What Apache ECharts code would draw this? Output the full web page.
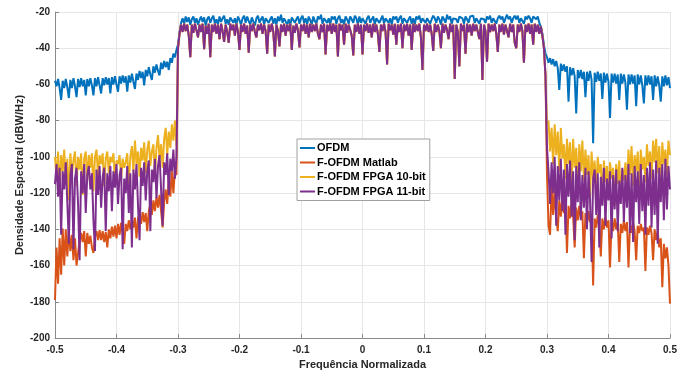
<!DOCTYPE html>
<html>
<head>
<meta charset="utf-8">
<script src="https://cdn.jsdelivr.net/npm/echarts@6/dist/echarts.min.js"></script>
<style>
  html, body { margin: 0; padding: 0; background: #fff; }
  #chart { width: 694px; height: 371px; }
</style>
</head>
<body>
<div id="chart"></div>
<script>
// frequency grid: -0.5 .. 0.5, 401 samples
const freq = [];
for (let i = 0; i < 401; i++) freq.push(Math.round((-0.5 + i * 0.0025) * 10000) / 10000);

const xTicks = ['-0.5', '-0.4', '-0.3', '-0.2', '-0.1', '0', '0.1', '0.2', '0.3', '0.4', '0.5'];
const yTicks = [-200, -180, -160, -140, -120, -100, -80, -60, -40, -20];

// OFDM (blue) - left sidelobes, passband, right sidelobes
const ofdmLeft = [
  -58, -61, -57, -62, -68.5, -58, -62, -57, -61.5, -67.5,
  -57.5, -62, -56.5, -61, -67, -57, -61.5, -56.5, -61, -57.5,
  -66, -57, -61, -56.5, -60.5, -66, -56.5, -61, -56, -60.5,
  -65, -56.5, -60.5, -56, -60, -56.5, -65, -56, -60, -55.5,
  -60, -64, -55.5, -59.5, -55, -59, -55.5, -64, -55, -59,
  -54, -58.5, -62.5, -54, -57.5, -52.5, -56.5, -53, -60.5, -52,
  -55.5, -50.5, -54.5, -57.5, -50, -53.5, -49, -52.5, -55, -48,
  -51.5, -47, -50.5, -47.5, -52, -45.5, -48, -43, -45, -41,
  -38
];
const ofdmPass = [
  -31, -26, -23.5, -26.5, -22.5, -25.5, -23, -27, -24, -22.5, -26, -23.5, -27, -24.5, -22.5, -25.5, -23, -27.5, -24, -22.5,
  -26, -23.5, -22, -26.5, -24, -27, -22.5, -25.5, -23.5, -22, -26.5, -24, -27, -23, -22.5, -26, -23.5, -27, -22.5, -24.5,
  -27, -23.5, -22, -26, -22.5, -25, -27, -23, -24, -27.5, -23.5, -22, -26, -24, -22.5, -27, -23.5, -22.5, -26, -24,
  -22.5, -26.5, -23.5, -27, -22.5, -25, -21.5, -26, -23.5, -22.5, -27, -24, -27.5, -23, -22.5, -26, -24, -22.5, -26.5, -23.5,
  -22, -26, -23.5, -27, -22.5, -24.5, -27, -22.5, -25, -26.5, -22.5, -24, -21.5, -26.5, -23.5, -22.5, -26, -23.5, -27, -22.5,
  -24, -22.5, -26.5, -23.5, -22, -26, -24, -27, -22.5, -24, -26.5, -22.5, -24, -26, -22, -23.5, -27, -22.5, -26, -23.5,
  -22.5, -26.5, -23.5, -22, -26, -24, -22.5, -27, -23.5, -22.5, -26, -24, -22, -26.5, -23.5, -22.5, -26, -23.5, -27, -22.5,
  -24, -22.5, -26, -23.5, -22, -26.5, -23.5, -22.5, -26, -24, -22.5, -26.5, -23.5, -27, -22.5, -24, -22, -26, -23.5, -22.5,
  -26, -23.5, -22.5, -26.5, -24, -22, -23.5, -26, -22.5, -24, -27, -22.5, -24, -26, -21.5, -24, -22.5, -26.5, -23.5, -22.5,
  -24, -26, -22.5, -22, -23.5, -26.5, -22.5, -24, -26, -22.5, -23.5, -22, -26, -23.5, -22.5, -26.5, -23.5, -22.5, -24, -26,
  -22.5, -24, -22, -26, -23.5, -22.5, -26.5, -23.5, -22, -24, -22.5, -26, -23.5, -21.5, -24, -22.5, -26, -23.5, -22, -24,
  -22, -26, -23.5, -22.5, -26.5, -22.5, -24, -22, -23.5, -26, -22.5, -22, -24, -22.5, -26, -28, -32, -38, -43
];
const ofdmRight = [
  -45, -48, -45.5, -49, -46, -50, -47, -51, -63, -48.5,
  -52.5, -49, -53, -50, -69.5, -50.5, -55, -51, -55.5, -76,
  -52, -56.5, -52, -57, -53, -67, -53, -58, -52.5, -57.5,
  -92.5, -53.5, -58.5, -53, -58, -54, -68, -53.5, -59, -54,
  -58.5, -78.5, -54, -59, -54, -59.5, -54.5, -68.5, -54, -59.5,
  -54.5, -59, -74, -54.5, -60, -54.5, -59.5, -55, -72, -54.5,
  -60, -55, -60.5, -70.5, -55, -60.5, -55, -60, -55.5, -68.5,
  -55, -61, -55.5, -60.5, -69.5, -55.5, -61, -55, -60.5, -56,
  -62
];

// F-OFDM passband (the three filtered curves overlap here)
const fofdmPass = [
  -32, -27, -31, -26.5, -30.5, -27, -33, -45, -27, -31.5, -26.5, -30, -34, -27, -31, -26.5, -40.5, -27.5, -32, -26.5,
  -45, -27, -31, -26.5, -32, -27, -35, -26.5, -30.5, -36.5, -27, -31, -37, -26.5, -30, -27, -33, -26.5, -31, -41,
  -27, -31, -26.5, -32, -27.5, -42.5, -27, -30.5, -26.5, -31, -34, -27, -30, -26.5, -32, -27, -30.5, -43, -27, -31,
  -26.5, -31, -44.5, -27, -30.5, -39, -27, -31, -26.5, -33, -27, -30.5, -26.5, -41, -27.5, -31.5, -26.5, -30, -39.5, -27,
  -30.5, -26.5, -32, -27, -34, -26.5, -31, -27, -30.5, -26.5, -32, -35, -27, -31, -26.5, -43.5, -27, -30.5, -26.5, -32,
  -26.5, -31, -27, -44.5, -26.5, -30, -27, -38, -26.5, -31.5, -27, -30, -33, -44, -27, -31, -26.5, -32, -27, -43.5,
  -27, -30.5, -26.5, -31.5, -27, -34, -26.5, -31, -27, -32, -42, -27, -30.5, -26.5, -31, -49, -26.5, -30, -27, -32.5,
  -26.5, -38, -27, -31, -26.5, -40, -27, -30.5, -26.5, -33, -27, -41, -26.5, -31, -27, -30.5, -26.5, -34, -52, -27,
  -30.5, -26.5, -31, -27, -32, -41.5, -26.5, -31, -27, -30.5, -40, -26.5, -31.5, -27, -30, -35, -26.5, -31, -27, -57,
  -27, -31, -50, -26.5, -30.5, -27, -43, -26.5, -31, -27, -33, -26.5, -30.5, -27, -31, -35, -26.5, -57.5, -27, -30.5,
  -47.5, -26.5, -31, -27, -30.5, -26.5, -32, -42, -27, -31, -26.5, -32.5, -27, -30.5, -34, -26.5, -31, -27, -37, -40,
  -27, -31, -26.5, -30.5, -48, -27, -31, -26.5, -32, -27, -38, -26.5, -31, -27, -32, -28, -33, -40, -55
];

// F-OFDM Matlab (orange) sidebands
const matlabLeft = [
  -179, -150, -170, -145, -165, -139.5, -160, -140, -155, -141,
  -152, -143, -157, -145, -160, -159.5, -146, -142, -147, -141,
  -155, -142, -148, -143.5, -150, -153, -144, -141, -146, -140.5,
  -146, -141, -147, -141.5, -150, -140, -145, -138.5, -144, -138,
  -145, -137, -143, -136.5, -142, -148, -137, -141, -135, -140,
  -134.5, -139, -133.5, -145, -134, -131, -137, -130.5, -136, -131,
  -141, -130, -126, -132, -124, -130, -122, -128, -121, -130,
  -139, -125, -118, -126, -112, -122, -108, -120, -107, -110,
  -40
];
const matlabRight = [
  -110, -138, -143, -116, -132, -118, -134, -141, -124, -133,
  -122, -131, -126, -153, -127, -134, -125, -133, -150, -128,
  -135, -127, -134, -130, -156, -131, -137, -130, -136, -132,
  -171, -134, -139, -132, -138, -155, -134, -140, -133, -139,
  -135, -161, -136, -141, -134, -140, -136, -158, -137, -142,
  -135, -141, -136, -161, -137, -142, -136, -141, -157, -138,
  -142, -137, -141, -139, -163, -139, -143, -138, -142, -157,
  -140, -146, -141, -150, -145, -172, -148, -156, -150, -160,
  -181
];

// F-OFDM FPGA 10-bit (yellow) sidebands
const fpga10Left = [
  -100, -112, -97, -118, -99, -108, -96, -114, -101, -124,
  -98, -110, -102, -97, -116, -100, -107, -98, -121, -101,
  -97, -113, -99, -106, -98, -119, -100, -96, -111, -99,
  -104, -98, -116, -101, -97, -109, -100, -103, -98, -114,
  -102, -104, -99, -112, -101, -106, -103, -98, -115, -100,
  -94, -108, -91, -104, -97, -111, -95, -102, -92, -109,
  -96, -91, -105, -97, -93, -110, -95, -88, -101, -93,
  -106, -90, -84, -99, -86, -95, -82, -91, -80, -94,
  -40
];
const fpga10Right = [
  -82, -80, -97, -84, -104, -82, -99, -86, -108, -84,
  -101, -93, -112, -90, -104, -92, -115, -90, -106, -95,
  -118, -93, -108, -91, -113, -96, -110, -99, -122, -97,
  -112, -102, -119, -100, -109, -104, -125, -102, -114, -105,
  -120, -103, -112, -106, -127, -104, -115, -102, -121, -107,
  -113, -103, -118, -96, -110, -94, -116, -99, -108, -97,
  -120, -96, -107, -100, -114, -93, -105, -97, -112, -91,
  -103, -90, -109, -94, -117, -92, -104, -96, -110, -91,
  -99
];

// F-OFDM FPGA 11-bit (purple) sidebands
const fpga11Left = [
  -115, -104, -122, -106, -143, -108, -118, -103, -125, -148,
  -110, -104, -151, -112, -106, -126, -157, -108, -120, -104,
  -131, -110, -105, -118, -109, -135, -152, -107, -121, -105,
  -128, -111, -106, -141, -109, -119, -105, -130, -108, -117,
  -104, -126, -110, -106, -151, -112, -120, -105, -131, -109,
  -150, -107, -118, -104, -127, -146, -106, -116, -103, -124,
  -108, -102, -141, -107, -114, -101, -123, -105, -99, -118,
  -138, -103, -110, -98, -121, -101, -108, -96, -112, -100,
  -40
];
const fpga11Right = [
  -95, -108, -126, -103, -120, -100, -138, -105, -124, -101,
  -130, -107, -143, -104, -122, -102, -133, -108, -146, -105,
  -125, -103, -135, -110, -128, -106, -140, -108, -124, -158,
  -112, -107, -132, -109, -150, -111, -127, -106, -138, -112,
  -124, -108, -145, -110, -129, -107, -141, -113, -126, -106,
  -136, -110, -128, -104, -142, -109, -147, -105, -125, -108,
  -137, -104, -130, -110, -143, -106, -127, -103, -139, -107,
  -132, -102, -148, -106, -125, -104, -135, -101, -129, -105,
  -118
];

const seriesNames = ['OFDM', 'F-OFDM Matlab', 'F-OFDM FPGA 10-bit', 'F-OFDM FPGA 11-bit'];
const seriesColors = ['#0072BD', '#D95319', '#EDB120', '#7E2F8E'];

const ofdm = ofdmLeft.concat(ofdmPass, ofdmRight);
const fMatlab = matlabLeft.concat(fofdmPass, matlabRight);
const f10 = fpga10Left.concat(fofdmPass, fpga10Right);
const f11 = fpga11Left.concat(fofdmPass, fpga11Right);

const toPairs = ys => ys.map((y, i) => [freq[i], y]);

const font = 'Liberation Sans, Arial, sans-serif';
const gridColor = '#e6e6e6';
const axisColor = '#8a8a8a';

const chart = echarts.init(document.getElementById('chart'), null, {renderer: 'canvas'});
chart.setOption({
  animation: false,
  backgroundColor: '#fff',
  color: seriesColors,
  grid: {left: 55, right: 24, top: 12, bottom: 33, outerBoundsMode: 'none'},
  legend: {
    orient: 'vertical',
    left: 297,
    top: 139,
    icon: 'rect',
    itemWidth: 15,
    itemHeight: 2,
    itemGap: 2.5,
    padding: [3, 4, 3, 3],
    backgroundColor: '#fff',
    borderColor: '#a0a0a0',
    borderWidth: 1,
    borderRadius: 0,
    data: seriesNames,
    textStyle: {fontFamily: font, fontWeight: 'bold', fontSize: 11, color: '#000', lineHeight: 12, padding: [0, 0, 0, -3]}
  },
  xAxis: {
    type: 'value',
    min: -0.5,
    max: 0.5,
    interval: 0.1,
    name: 'Frequência Normalizada',
    nameLocation: 'middle',
    nameGap: 17,
    nameTextStyle: {fontFamily: font, fontWeight: 'bold', fontSize: 11, color: '#262626'},
    axisLine: {show: true, onZero: false, lineStyle: {color: axisColor, width: 1}},
    axisTick: {show: true, inside: true, length: 4, lineStyle: {color: axisColor}},
    axisLabel: {
      margin: 7,
      fontFamily: font, fontWeight: 'bold', fontSize: 10, color: '#262626',
      formatter: v => xTicks[Math.round((v + 0.5) * 10)]
    },
    splitLine: {show: true, lineStyle: {color: gridColor, width: 1}}
  },
  yAxis: {
    type: 'value',
    min: yTicks[0],
    max: yTicks[yTicks.length - 1],
    interval: 20,
    name: 'Densidade Espectral (dBW/Hz)',
    nameLocation: 'middle',
    nameGap: 30,
    nameMoveOverlap: false,
    nameTextStyle: {fontFamily: font, fontWeight: 'bold', fontSize: 11, color: '#262626'},
    axisLine: {show: true, onZero: false, lineStyle: {color: axisColor, width: 1}},
    axisTick: {show: true, inside: true, length: 4, lineStyle: {color: axisColor}},
    axisLabel: {margin: 5, fontFamily: font, fontWeight: 'bold', fontSize: 10, color: '#262626'},
    splitLine: {show: true, lineStyle: {color: gridColor, width: 1}}
  },
  series: [ofdm, fMatlab, f10, f11].map((ys, k) => ({
    name: seriesNames[k],
    type: 'line',
    data: toPairs(ys),
    showSymbol: false,
    symbol: 'none',
    sampling: null,
    silent: true,
    lineStyle: {width: 2, color: seriesColors[k]},
    itemStyle: {color: seriesColors[k]},
    z: 2 + k
  }))
});
</script>
</body>
</html>
